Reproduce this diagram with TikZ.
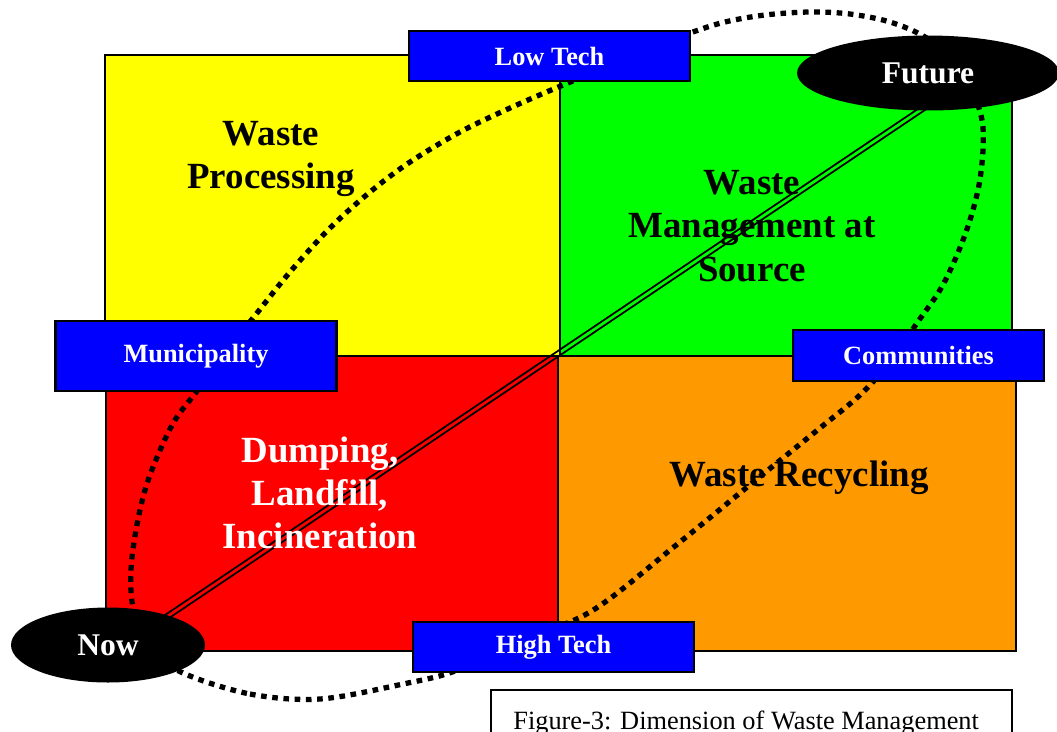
\documentclass[tikz,border=0pt]{standalone}
\usepackage{fontspec}
\setmainfont{Liberation Serif}
\usetikzlibrary{shapes.geometric}

\definecolor{procyellow}{RGB}{255,255,0}
\definecolor{srcgreen}{RGB}{0,255,0}
\definecolor{dumpred}{RGB}{255,0,0}
\definecolor{recorange}{RGB}{255,153,0}
\definecolor{tagblue}{RGB}{0,0,255}

\begin{document}
\begin{tikzpicture}[
    x=0.02cm, y=-0.02cm,
    quad/.style={draw=black, line width=1.2pt},
    tag/.style={rectangle, draw=black, line width=1.2pt, fill=tagblue, text=white,
      inner sep=0pt, minimum width=5.62cm, minimum height=1cm,
      font=\fontsize{15}{18}\selectfont\bfseries},
    stage/.style={ellipse, fill=black, text=white, inner sep=0pt, minimum height=1.5cm,
      font=\fontsize{18}{20}\selectfont\bfseries},
    area/.style={align=center, font=\fontsize{21}{24.6}\selectfont\bfseries},
    trail/.style={line width=3pt, dash pattern=on 3.2pt off 3.2pt},
    strand/.style={line width=1pt}
  ]
  \clip (0,0) rectangle (1057,731);

  % the four fields
  \filldraw[quad, fill=procyellow] (105,55) rectangle (560,356);
  \filldraw[quad, fill=srcgreen] (560,55) rectangle (1012,356);
  \filldraw[quad, fill=dumpred] (106,356) rectangle (558,651);
  \filldraw[quad, fill=recorange] (558,356) rectangle (1016,651);

  % dotted loop round the diagonal
  \draw[trail] plot[smooth cycle, tension=0.55] coordinates {
    (183,673) (250,694) (320,699) (403,684) (455,671) (510,644) (590,612)
    (675,546) (757,479) (820,428) (860,395) (890,362) (917,323) (940,290)
    (957,255) (970,220) (979,185) (983,150) (982,120) (972,90) (955,62)
    (925,37) (890,22) (850,14) (810,12) (765,15) (725,22) (690,33) (640,52)
    (600,70) (563,85) (510,108) (460,132) (410,162) (370,192) (330,228)
    (290,272) (253,318) (225,352) (197,391) (175,420) (158,455) (145,490)
    (136,530) (131,570) (133,607) (148,648)};

  % diagonal from now to future
  \coordinate (diag-a) at (150,628);
  \coordinate (diag-b) at (940,97);
  \draw[strand] ([shift={(1.3,2)}]diag-a) -- ([shift={(1.3,2)}]diag-b);
  \draw[strand] ([shift={(-1.3,-2)}]diag-a) -- ([shift={(-1.3,-2)}]diag-b);

  \node[area] (proc) at (271,159) {Waste\\Processing};
  \node[area] (source) at (752,226) {Waste\\Management at\\Source};
  \node[area, text=white] (dump) at (320,493) {Dumping,\\Landfill,\\Incineration};
  \node[area] (recycle) at (799,478) {Waste Recycling};

  % axis tags
  \node[tag] (low) at (549.5,56) {Low Tech};
  \node[tag, minimum height=1.4cm] (muni) at (196,356) {Municipality};
  \node[tag, minimum width=5.02cm, minimum height=1.02cm] (comm) at (918.5,355.5) {Communities};
  \node[tag] (high) at (553.5,647) {High Tech};

  \node[stage, minimum width=3.88cm] (now) at (108,645) {Now};
  \node[stage, minimum width=5.24cm] (future) at (928,73) {Future};

  % caption
  \draw[line width=0.8pt] (491,690) rectangle (1012,760);
  \node[anchor=base west, inner sep=0pt, font=\fontsize{15}{18}\selectfont] (caption) at (513,729)
    {Figure-3: Dimension of Waste Management};
\end{tikzpicture}
\end{document}
